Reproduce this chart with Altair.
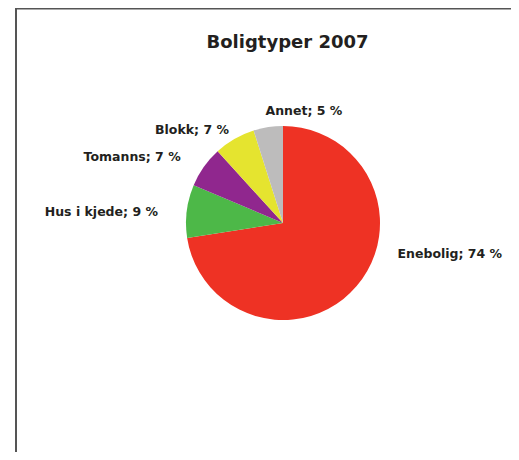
import altair as alt
import pandas as pd

# --- data ---
categories = ["Enebolig", "Hus i kjede", "Tomanns", "Blokk", "Annet"]
values = [74, 9, 7, 7, 5]
labels = ["Enebolig; 74 %", "Hus i kjede; 9 %", "Tomanns; 7 %", "Blokk; 7 %", "Annet; 5 %"]
colors = ["#EE3224", "#4DB848", "#90278E", "#E5E42F", "#BDBCBC"]
title_text = "Boligtyper 2007"

df = pd.DataFrame({
    "kategori": categories,
    "andel": values,
    "etikett": labels,
    "rekke": list(range(len(categories))),
})

W, H = 503, 444
CX, CY = 275, 215      # pie centre inside the view
R = 97                 # pie radius
FONT = "DejaVu Sans"
TXT = "#231F20"

pie = alt.Chart(df).mark_arc(outerRadius=R).encode(
    theta=alt.Theta("andel:Q", stack=True),
    order=alt.Order("rekke:Q", sort="ascending"),
    color=alt.Color("kategori:N", scale=alt.Scale(domain=categories, range=colors), legend=None),
    x=alt.value(CX),
    y=alt.value(CY),
)

lab_base = (
    alt.Chart(df)
    .transform_joinaggregate(total="sum(andel)")
    .transform_window(cum="sum(andel)", sort=[alt.SortField("rekke")], frame=[None, 0])
    .transform_calculate(mid="(datum.cum - datum.andel / 2) / datum.total * 2 * PI")
)

# per-label layout (style, not data)
label_layout = [
    (["Enebolig"], "left", 110, 31, -41),
    (["Hus i kjede"], "right", 128, 2, 5),
    (["Tomanns"], "right", 118, -6, 2),
    (["Blokk"], "right", 108, 0, 1),
    (["Annet"], "left", 114, 0, 1),
]

layers = [pie]
for names, align, rad, dx, dy in label_layout:
    layers.append(
        lab_base.transform_filter(alt.FieldOneOfPredicate(field="kategori", oneOf=names))
        .mark_text(radius=rad, align=align, baseline="middle", dx=dx, dy=dy,
                   font=FONT, fontSize=12.5, fontWeight="bold", color=TXT)
        .encode(
            theta=alt.Theta("mid:Q", scale=None),
            text="etikett:N",
            x=alt.value(CX),
            y=alt.value(CY),
        )
    )

frame_df = pd.DataFrame({"k": [0]})
left_line = alt.Chart(frame_df).mark_rule(color="#555555", strokeWidth=2).encode(
    x=alt.value(8), y=alt.value(0), y2=alt.value(H)
)
top_line = alt.Chart(frame_df).mark_rule(color="#555555", strokeWidth=2).encode(
    x=alt.value(7), x2=alt.value(W), y=alt.value(0.5)
)
layers += [left_line, top_line]

chart = alt.layer(*layers).properties(
    width=W,
    height=H,
    padding=0,
    autosize=alt.AutoSizeParams(type="none"),
    title=alt.TitleParams(
        text=title_text, anchor="middle", dx=28, dy=49,
        font=FONT, fontSize=18, fontWeight="bold", color=TXT,
    ),
).configure_view(stroke=None)

chart.save("out.html", embed_options={"renderer": "svg", "actions": False})
